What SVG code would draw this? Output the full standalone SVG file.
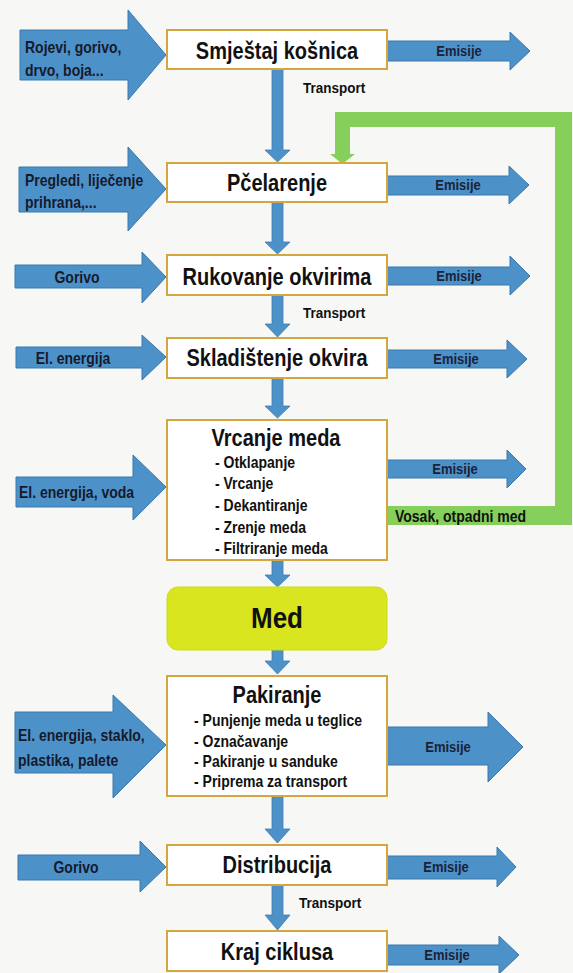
<svg xmlns="http://www.w3.org/2000/svg" width="573" height="973" viewBox="0 0 573 973">
<style>
.bg{fill:#f7f7f5}
.box{fill:#ffffff;stroke:#d4a640;stroke-width:2}
.med{fill:#d9e51e;stroke:#cddc1a;stroke-width:1}
.flow{fill:#4d91c9;stroke:#3b78ad;stroke-width:1}
.down{fill:#4d91c9;stroke:#3f7db2;stroke-width:0.8}
.loop{fill:#86cf5b}
.t{font-family:"Liberation Sans",Arial,sans-serif;font-weight:bold;fill:#111111}
.title{font-size:20px;text-anchor:middle}
.sub{font-size:14px}
.lbl{font-size:14px;fill:#161a2c}
.em{font-size:13px;fill:#1b2238;text-anchor:middle}
.tr{font-size:13.5px;fill:#111111}
.mid{text-anchor:middle}
</style>
<rect class="bg" x="0" y="0" width="573" height="973"/>

<g id="connectors">
  <polygon class="down" points="272,69 283,69 283,150 290,150 277.5,162 265,150 272,150"/>
  <polygon class="down" points="272,202 283,202 283,242 290,242 277.5,254 265,242 272,242"/>
  <polygon class="down" points="272,295 283,295 283,324 290,324 277.5,337 265,324 272,324"/>
  <polygon class="down" points="272,378 283,378 283,406 290,406 277.5,418 265,406 272,406"/>
  <polygon class="down" points="272,560 283,560 283,575 290,575 277.5,587 265,575 272,575"/>
  <polygon class="down" points="272,650 283,650 283,661 290,661 277.5,674 265,661 272,661"/>
  <polygon class="down" points="272,796 283,796 283,829 290,829 277.5,843 265,829 272,829"/>
  <polygon class="down" points="272,885 283,885 283,915 290,915 277.5,930 265,915 272,915"/>
  <path class="loop" d="M387 506 H555 V127 H350 V154 H355 L342.5 164 L330 154 H335 V112 H572 V525 H387 Z"/>
  <text class="t tr" transform="translate(303 93) scale(1 1.15)">Transport</text>
  <text class="t tr" transform="translate(303 318) scale(1 1.15)">Transport</text>
  <text class="t tr" transform="translate(299 908) scale(1 1.15)">Transport</text>
  <text class="t sub" fill="#1e2a14" transform="translate(395 522) scale(1 1.15)">Vosak, otpadni med</text>
</g>

<g id="inputs">
  <g id="in1">
    <polygon class="flow" points="20,30 128,30 128,10 166,55 128,100 128,80 20,80"/>
    <text class="t lbl" transform="translate(25 53) scale(1 1.15)">Rojevi, gorivo,</text>
    <text class="t lbl" transform="translate(25 76) scale(1 1.15)">drvo, boja...</text>
  </g>
  <g id="in2">
    <polygon class="flow" points="19,167 128,167 128,147 166,189 128,231 128,212 19,212"/>
    <text class="t lbl" transform="translate(25 186) scale(1 1.15)">Pregledi, liječenje</text>
    <text class="t lbl" transform="translate(25 208) scale(1 1.15)">prihrana,...</text>
  </g>
  <g id="in3">
    <polygon class="flow" points="15,265 142,265 142,252 166,277 142,303 142,288 15,288"/>
    <text class="t lbl mid" transform="translate(77 283) scale(1 1.15)">Gorivo</text>
  </g>
  <g id="in4">
    <polygon class="flow" points="16,347 142,347 142,335 166,357 142,380 142,368 16,368"/>
    <text class="t lbl mid" transform="translate(73 364) scale(1 1.15)">El. energija</text>
  </g>
  <g id="in5">
    <polygon class="flow" points="16,477 133,477 133,455 166,487 133,520 133,507 16,507"/>
    <text class="t lbl" transform="translate(19 498) scale(1 1.15)">El. energija, voda</text>
  </g>
  <g id="in6">
    <polygon class="flow" points="15,712 113,712 113,695 166,745 113,798 113,773 15,773"/>
    <text class="t lbl" transform="translate(18 741) scale(1 1.15)">El. energija, staklo,</text>
    <text class="t lbl" transform="translate(18 766) scale(1 1.15)">plastika, palete</text>
  </g>
  <g id="in7">
    <polygon class="flow" points="18,855 140,855 140,841 166,867 140,892 140,880 18,880"/>
    <text class="t lbl mid" transform="translate(76 873) scale(1 1.15)">Gorivo</text>
  </g>
</g>

<g id="outputs">
  <g id="out1">
    <polygon class="flow" points="387,41 510,41 510,32 530,51 510,70 510,61 387,61"/>
    <text class="t em" transform="translate(459 56) scale(1 1.15)">Emisije</text>
  </g>
  <g id="out2">
    <polygon class="flow" points="387,176 509,176 509,166 529,185 509,204 509,195 387,195"/>
    <text class="t em" transform="translate(458 190) scale(1 1.15)">Emisije</text>
  </g>
  <g id="out3">
    <polygon class="flow" points="387,267 510,267 510,256 530,276 510,295 510,285 387,285"/>
    <text class="t em" transform="translate(459 281) scale(1 1.15)">Emisije</text>
  </g>
  <g id="out4">
    <polygon class="flow" points="387,350 507,350 507,340 527,359 507,378 507,368 387,368"/>
    <text class="t em" transform="translate(456 364) scale(1 1.15)">Emisije</text>
  </g>
  <g id="out5">
    <polygon class="flow" points="387,460 507,460 507,450 526,469 507,488 507,478 387,478"/>
    <text class="t em" transform="translate(455 474) scale(1 1.15)">Emisije</text>
  </g>
  <g id="out6">
    <polygon class="flow" points="387,727 488,727 488,712 523,747 488,782 488,765 387,765"/>
    <text class="t em" transform="translate(448 752) scale(1 1.15)">Emisije</text>
  </g>
  <g id="out7">
    <polygon class="flow" points="387,856 497,856 497,847 516,867 497,887 497,879 387,879"/>
    <text class="t em" transform="translate(446 872) scale(1 1.15)">Emisije</text>
  </g>
  <g id="out8">
    <polygon class="flow" points="387,945 499,945 499,936 519,955 499,974 499,965 387,965"/>
    <text class="t em" transform="translate(447 960) scale(1 1.15)">Emisije</text>
  </g>
</g>

<g id="smjestaj">
  <rect class="box" x="167" y="30" width="220" height="39"/>
  <text class="t title" transform="translate(277 59) scale(1 1.15)">Smještaj košnica</text>
</g>
<g id="pcelarenje">
  <rect class="box" x="167" y="163" width="220" height="39"/>
  <text class="t title" transform="translate(277 191) scale(1 1.15)">Pčelarenje</text>
</g>
<g id="rukovanje">
  <rect class="box" x="167" y="255" width="220" height="40"/>
  <text class="t title" transform="translate(277 285) scale(1 1.15)">Rukovanje okvirima</text>
</g>
<g id="skladistenje">
  <rect class="box" x="167" y="338" width="220" height="40"/>
  <text class="t title" transform="translate(277 366) scale(1 1.15)">Skladištenje okvira</text>
</g>
<g id="vrcanje">
  <rect class="box" x="167" y="420" width="220" height="140"/>
  <text class="t title" transform="translate(276 446) scale(1 1.15)">Vrcanje meda</text>
  <text class="t sub" transform="translate(215 468) scale(1 1.15)">- Otklapanje</text>
  <text class="t sub" transform="translate(215 489) scale(1 1.15)">- Vrcanje</text>
  <text class="t sub" transform="translate(215 511) scale(1 1.15)">- Dekantiranje</text>
  <text class="t sub" transform="translate(215 533) scale(1 1.15)">- Zrenje meda</text>
  <text class="t sub" transform="translate(215 554) scale(1 1.15)">- Filtriranje meda</text>
</g>
<g id="med">
  <rect class="med" x="167" y="587" width="220" height="63" rx="11" ry="11"/>
  <text class="t mid" font-size="26" transform="translate(277 628) scale(1 1.15)">Med</text>
</g>
<g id="pakiranje">
  <rect class="box" x="167" y="676" width="220" height="120"/>
  <text class="t title" transform="translate(277 703) scale(1 1.15)">Pakiranje</text>
  <text class="t sub" transform="translate(194 726) scale(1 1.15)">- Punjenje meda u teglice</text>
  <text class="t sub" transform="translate(194 747) scale(1 1.15)">- Označavanje</text>
  <text class="t sub" transform="translate(194 767) scale(1 1.15)">- Pakiranje u sanduke</text>
  <text class="t sub" transform="translate(194 787) scale(1 1.15)">- Priprema za transport</text>
</g>
<g id="distribucija">
  <rect class="box" x="167" y="845" width="220" height="40"/>
  <text class="t title" transform="translate(277 873) scale(1 1.15)">Distribucija</text>
</g>
<g id="kraj">
  <rect class="box" x="167" y="931" width="220" height="40"/>
  <text class="t title" transform="translate(277 960) scale(1 1.15)">Kraj ciklusa</text>
</g>
</svg>
